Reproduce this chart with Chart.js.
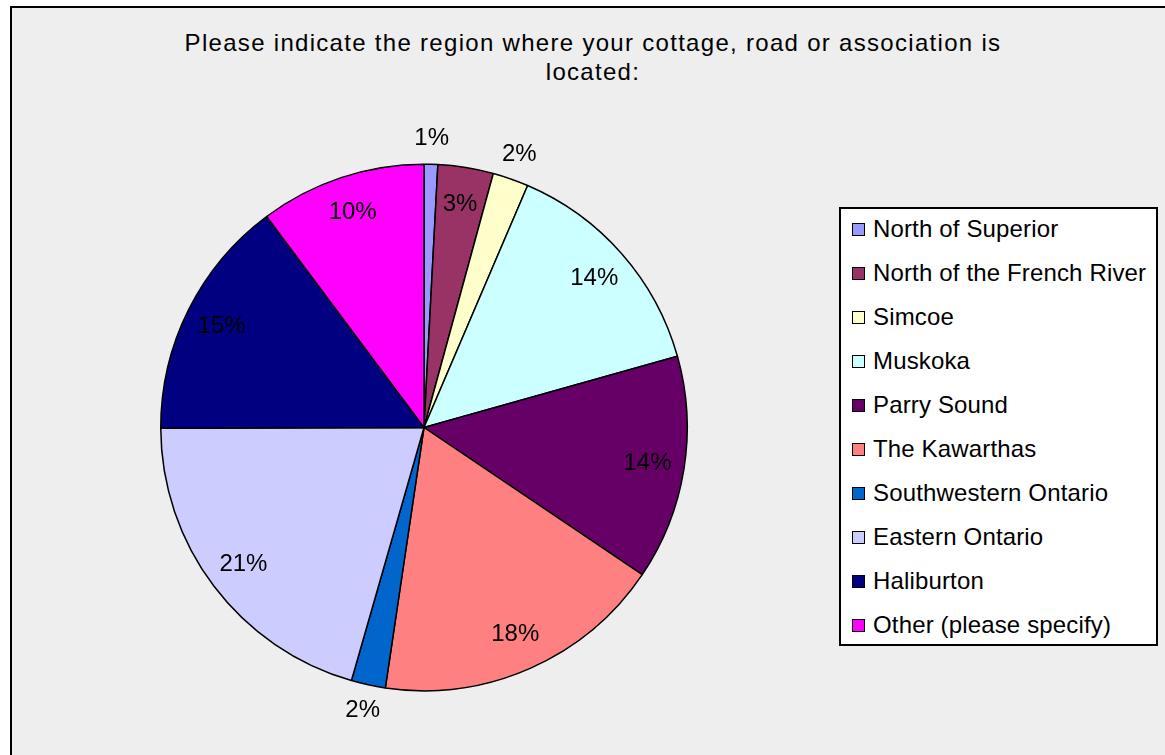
<!DOCTYPE html>
<html>
<head>
<meta charset="utf-8">
<script src="https://cdn.jsdelivr.net/npm/chart.js@4/dist/chart.umd.min.js"></script>
<style>
  html, body { margin: 0; padding: 0; background: #fff; overflow: hidden; }
  body { width: 1165px; height: 755px; position: relative; font-family: "Liberation Sans", Arial, sans-serif; }
  #frame {
    position: absolute; left: 10px; top: 6px; width: 1200px; height: 800px;
    background: #EEEEEE; border-left: 2px solid #000; border-top: 2px solid #000;
  }
  #title {
    position: absolute; left: 93px; top: 28px; width: 1000px;
    text-align: center; font-size: 24px; line-height: 29px; letter-spacing: 1.3px; color: #000;
  }
  #legendBox {
    position: absolute; left: 839px; top: 207px; width: 315px; height: 435px;
    background: #fff; border: 2px solid #000;
  }
  .item {
    position: absolute; left: 852px; height: 44px; display: flex; align-items: center;
    font-size: 24px; letter-spacing: 0.15px; color: #000; white-space: nowrap;
  }
  .mark { width: 11px; height: 11px; border: 1px solid #000; margin-right: 8px; }
  #wrap { position: absolute; left: 0; top: 0; width: 1165px; height: 755px; }
</style>
</head>
<body>
<div id="frame"></div>
<div id="title">Please indicate the region where your cottage, road or association is<br>located:</div>
<div id="legendBox"></div>
<div id="legendItems"></div>
<div id="wrap"><canvas id="pie"></canvas></div>
<script>
"use strict";

// Régions (ordre de la légende, sens horaire depuis midi)
const REGIONS = [
  "North of Superior",
  "North of the French River",
  "Simcoe",
  "Muskoka",
  "Parry Sound",
  "The Kawarthas",
  "Southwestern Ontario",
  "Eastern Ontario",
  "Haliburton",
  "Other (please specify)",
];

// Parts (%)
const SHARES = [0.84, 3.4, 2.2, 14.2, 13.8, 17.9, 2.1, 20.5, 14.85, 10.2];

const COLORS = [
  "#9999FF", "#993366", "#FFFFCC", "#CCFFFF", "#660066",
  "#FF8080", "#0066CC", "#CCCCFF", "#000080", "#FF00FF",
];

const FONT = '"Liberation Sans", Arial, sans-serif';

// Légende HTML
const legendEl = document.getElementById("legendItems");
REGIONS.forEach((name, i) => {
  const row = document.createElement("div");
  row.className = "item";
  row.style.top = (207 + i * 44) + "px";
  row.innerHTML = `<span class="mark" style="background:${COLORS[i]}"></span><span>${name}</span>`;
  legendEl.appendChild(row);
});

// Étiquettes de pourcentage
const pctLabels = {
  id: "pctLabels",
  afterDatasetsDraw(chart) {
    const { ctx } = chart;
    const meta = chart.getDatasetMeta(0);
    const data = chart.data.datasets[0].data;
    const total = data.reduce((a, b) => a + b, 0);
    ctx.save();
    ctx.font = "24px " + FONT;
    ctx.fillStyle = "#000";
    ctx.textAlign = "center";
    ctx.textBaseline = "middle";
    meta.data.forEach((arc, i) => {
      const pct = data[i] / total * 100;
      const mid = (arc.startAngle + arc.endAngle) / 2;
      const r = arc.outerRadius * (pct < 2.5 ? 1.1 : 0.86);
      ctx.fillText(Math.round(pct) + "%", arc.x + Math.cos(mid) * r, arc.y + Math.sin(mid) * r);
    });
    ctx.restore();
  },
};

new Chart(document.getElementById("pie").getContext("2d"), {
  type: "pie",
  data: {
    labels: REGIONS,
    datasets: [{
      data: SHARES,
      backgroundColor: COLORS,
      borderColor: "#000",
      borderWidth: 1.5,
      borderAlign: "center",
    }],
  },
  options: {
    responsive: true,
    maintainAspectRatio: false,
    animation: false,
    layout: { padding: { left: 160, top: 163, right: 477, bottom: 63 } },
    plugins: {
      legend: { display: false },
      title: { display: false },
      tooltip: { enabled: false },
    },
  },
  plugins: [pctLabels],
});
</script>
</body>
</html>
